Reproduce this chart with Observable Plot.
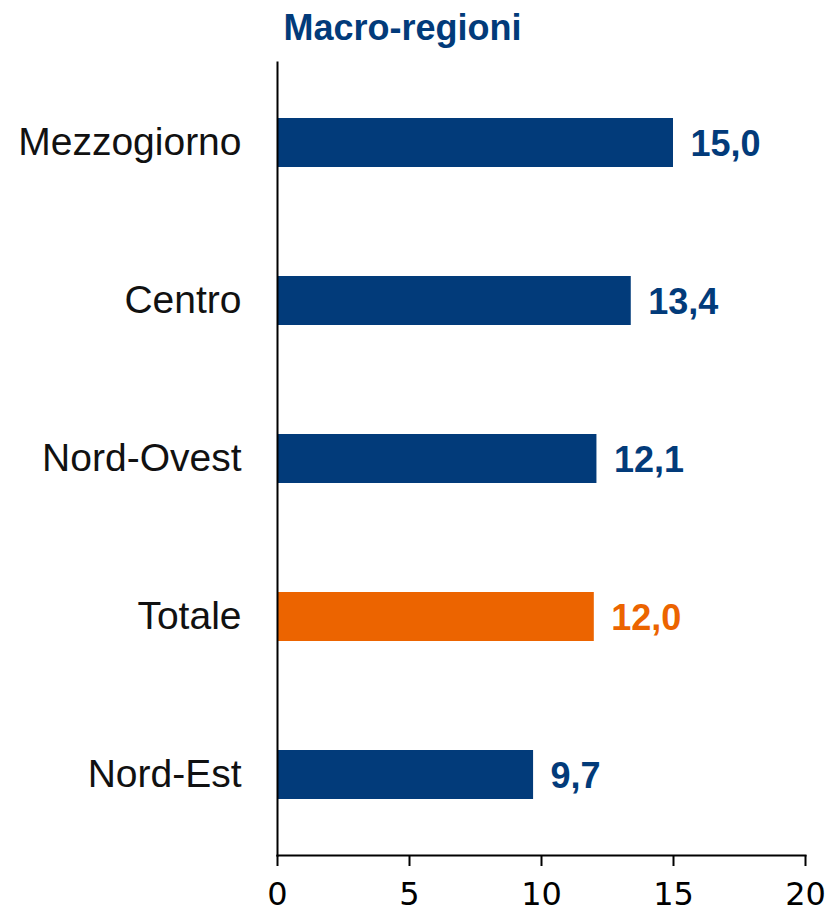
<!DOCTYPE html>
<html>
<head>
<meta charset="utf-8">
<script src="https://cdn.jsdelivr.net/npm/d3@7"></script>
<script src="https://cdn.jsdelivr.net/npm/@observablehq/plot@0.6"></script>
<style>
  html, body { margin: 0; padding: 0; background: #fff; }
  #chart { width: 829px; height: 914px; }
</style>
</head>
<body>
<div id="chart"></div>
<script>
const title = "Macro-regioni";
const categories = ["Mezzogiorno", "Centro", "Nord-Ovest", "Totale", "Nord-Est"];
const values = [15.0, 13.4, 12.1, 12.0, 9.7];
const highlighted = ["Totale"];
const xTicks = [0, 5, 10, 15, 20];

const BLUE = "#023B7A";
const ORANGE = "#EC6400";

const data = categories.map((c, i) => ({
  cat: c,
  value: values[i],
  color: highlighted.includes(c) ? ORANGE : BLUE,
  label: values[i].toFixed(1).replace(".", ",")
}));

const chart = Plot.plot({
  width: 829,
  height: 914,
  marginLeft: 277,
  marginRight: 24,
  marginTop: 62,
  marginBottom: 59,
  style: { fontFamily: "Liberation Sans, Arial, sans-serif", background: "#fff", overflow: "visible" },
  x: { domain: [0, 20], ticks: xTicks, label: null },
  y: { domain: categories, paddingInner: 0.69, paddingOuter: 0.345, label: null },
  marks: [
    Plot.barX(data, { y: "cat", x: "value", fill: "color" }),
    Plot.text(data, {
      y: "cat", x: "value", text: "label", fill: "color",
      textAnchor: "start", dx: 17, dy: 1,
      fontSize: 36, fontWeight: "bold", fontFamily: "Liberation Sans, Arial, sans-serif"
    }),
    Plot.frame({ anchor: "left", stroke: "#000", strokeWidth: 2 }),
    Plot.frame({ anchor: "bottom", stroke: "#000", strokeWidth: 2 }),
    Plot.axisY({
      tickSize: 0, tickPadding: 36, fontSize: 39, label: null,
      fill: "#111", fontFamily: "Liberation Sans, Arial, sans-serif"
    }),
    Plot.axisX({
      ticks: xTicks, tickSize: 11, tickPadding: 16, strokeWidth: 2, stroke: "#000",
      fontSize: 32, label: null, fill: "#000", tickFormat: d => String(d),
      fontFamily: "DejaVu Sans, sans-serif"
    }),
    Plot.text([title], {
      text: d => d, frameAnchor: "top-left", lineAnchor: "middle", dx: 125, dy: -34,
      textAnchor: "middle", fill: BLUE, fontSize: 36, fontWeight: "bold",
      fontFamily: "Liberation Sans, Arial, sans-serif"
    })
  ]
});

document.getElementById("chart").appendChild(chart);
</script>
</body>
</html>
